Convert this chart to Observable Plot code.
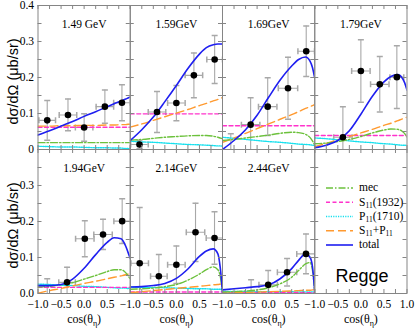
<!DOCTYPE html>
<html><head><meta charset="utf-8">
<script src="https://cdn.jsdelivr.net/npm/d3@7"></script>
<script src="https://cdn.jsdelivr.net/npm/@observablehq/plot@0.6"></script>
<style>
body{margin:0;background:#fff}
#wrap{position:relative;width:415px;height:328px;background:#fff}
#wrap svg{display:block}
#overlay{position:absolute;left:0;top:0;pointer-events:none}
</style></head><body><div id="wrap"></div>
<script>
// ---------- data ----------
const energies = ["1.49 GeV", "1.59GeV", "1.69GeV", "1.79GeV", "1.94GeV", "2.14GeV", "2.44GeV"];
const panelCol = [0, 1, 2, 3, 0, 1, 2];
const panelRow = [0, 0, 0, 0, 1, 1, 1];
const cosGrid = [-1, -0.75, -0.5, -0.25, 0, 0.25, 0.5, 0.65, 0.8, 0.9, 0.95, 1];

const mecCurves = [
  [0.019,0.019,0.019,0.019,0.019,0.019,0.019,0.019,0.019,0.019,0.019,0.019],
  [0.026,0.028,0.031,0.034,0.036,0.038,0.039,0.039,0.037,0.034,0.032,0.030],
  [0.025,0.028,0.032,0.036,0.040,0.045,0.048,0.047,0.042,0.033,0.024,0.012],
  [0.016,0.018,0.022,0.028,0.036,0.046,0.054,0.057,0.056,0.050,0.044,0.034],
  [0.018,0.020,0.024,0.030,0.040,0.050,0.061,0.066,0.066,0.058,0.050,0.040],
  [0.012,0.013,0.015,0.019,0.025,0.037,0.054,0.066,0.074,0.066,0.048,0.004],
  [0.004,0.005,0.007,0.010,0.016,0.027,0.045,0.064,0.082,0.086,0.065,0.004]
];
const s11Curves = [
  [0.062,0.062,0.062,0.062,0.062,0.062,0.062,0.062,0.062,0.062,0.062,0.062],
  [0.099,0.099,0.099,0.099,0.099,0.099,0.099,0.099,0.099,0.099,0.099,0.099],
  [0.066,0.066,0.066,0.066,0.066,0.066,0.066,0.066,0.066,0.066,0.066,0.066],
  [0.039,0.039,0.039,0.039,0.039,0.039,0.039,0.039,0.039,0.039,0.039,0.039],
  [0.017,0.017,0.017,0.017,0.017,0.017,0.017,0.017,0.017,0.017,0.017,0.017],
  [0.004,0.004,0.004,0.004,0.004,0.004,0.004,0.004,0.004,0.004,0.004,0.004],
  [0.002,0.002,0.002,0.002,0.002,0.002,0.002,0.002,0.002,0.002,0.002,0.002]
];
const p11Curves = [
  [0.009,0.008,0.007,0.007,0.006,0.005,0.005,0.004,0.004,0.003,0.003,0.003],
  [0.023,0.021,0.020,0.018,0.016,0.014,0.013,0.012,0.011,0.010,0.010,0.009],
  [0.034,0.031,0.028,0.025,0.022,0.020,0.017,0.015,0.014,0.013,0.012,0.011],
  [0.032,0.030,0.027,0.024,0.021,0.019,0.016,0.015,0.013,0.012,0.012,0.011],
  [0.026,0.025,0.023,0.022,0.020,0.019,0.017,0.016,0.015,0.015,0.014,0.014],
  [0.018,0.017,0.017,0.016,0.015,0.014,0.013,0.013,0.012,0.012,0.012,0.011],
  [0.006,0.006,0.006,0.005,0.005,0.005,0.005,0.004,0.004,0.004,0.004,0.004]
];
const sumCurves = [
  [0.065,0.065,0.066,0.066,0.067,0.067,0.068,0.068,0.069,0.069,0.070,0.070],
  [0.062,0.071,0.081,0.091,0.101,0.111,0.122,0.128,0.135,0.139,0.142,0.144],
  [0.020,0.032,0.045,0.058,0.071,0.084,0.097,0.105,0.114,0.119,0.122,0.125],
  [0.008,0.017,0.027,0.036,0.046,0.056,0.067,0.073,0.080,0.085,0.087,0.090],
  [0.001,0.008,0.014,0.021,0.028,0.034,0.041,0.045,0.049,0.052,0.054,0.055],
  [0.002,0.005,0.008,0.011,0.014,0.017,0.020,0.022,0.024,0.025,0.026,0.027],
  [0.001,0.002,0.003,0.004,0.005,0.006,0.007,0.008,0.009,0.009,0.010,0.010]
];
const totalCurves = [
  [0.040,0.052,0.065,0.078,0.092,0.105,0.119,0.127,0.135,0.140,0.143,0.146],
  [0.025,0.055,0.090,0.133,0.178,0.225,0.265,0.283,0.291,0.293,0.293,0.293],
  [0.000,0.025,0.055,0.095,0.145,0.193,0.232,0.250,0.257,0.245,0.228,0.198],
  [0.005,0.012,0.025,0.052,0.098,0.148,0.188,0.203,0.208,0.198,0.185,0.165],
  [0.022,0.022,0.025,0.040,0.070,0.108,0.142,0.155,0.152,0.132,0.115,0.097],
  [0.018,0.019,0.022,0.028,0.042,0.068,0.103,0.118,0.124,0.110,0.073,0.004],
  [0.010,0.013,0.016,0.019,0.024,0.041,0.069,0.092,0.110,0.100,0.075,0.004]
];

// measured points (cos, value, vertical error, horizontal half-width)
const dataCos = [
  [-0.80,-0.35,0.00,0.45,0.82],
  [-0.80,-0.42,0.00,0.38,0.83],
  [-0.82,-0.39,-0.02,0.42,0.815],
  [-0.39,0.00,0.41,0.78],
  [-0.80,-0.37,0.015,0.41,0.825],
  [-0.795,-0.38,0.00,0.415,0.827],
  [-0.38,-0.01,0.40,0.81]
];
const dataVal = [
  [0.081,0.096,0.061,0.119,0.130],
  [0.014,0.104,0.129,0.206,0.250],
  [-0.008,0.069,0.119,0.170,0.273],
  [0.034,0.218,0.181,0.201],
  [-0.008,0.031,0.152,0.164,0.201],
  [0.084,0.048,0.080,0.170,0.154],
  [-0.008,0.024,0.059,0.110]
];
const dataErr = [
  [0.055,0.044,0.038,0.046,0.050],
  [0.012,0.057,0.049,0.062,0.067],
  [0.052,0.075,0.080,0.086,0.070],
  [0.085,0.087,0.077,0.087],
  [0.049,0.042,0.050,0.042,0.062],
  [0.155,0.060,0.052,0.081,0.073],
  [0.046,0.040,0.038,0.055]
];
const dataXErr = [
  [0.18,0.19,0.19,0.19,0.18],
  [0.19,0.19,0.19,0.19,0.17],
  [0.18,0.20,0.20,0.21,0.18],
  [0.20,0.20,0.20,0.15],
  [0.18,0.18,0.20,0.20,0.18],
  [0.19,0.18,0.19,0.20,0.18],
  [0.19,0.20,0.21,0.20]
];

const seriesLabels = ["mec", "S_11(1932)", "P_11(1710)", "S_11+P_11", "total"];
const seriesColors = ["#6cc13c", "#ff33cc", "#16e0ee", "#ff9a30", "#1f1ff0"];
const seriesDash = ["7,2,1.5,2", "4,2.5", "1.2,1.2", "8,4", null];
const seriesCurves = [mecCurves, s11Curves, p11Curves, sumCurves, totalCurves];

const xTickValues = [-1, -0.75, -0.5, -0.25, 0, 0.25, 0.5, 0.75, 1];
const yTickValues = [0, 0.05, 0.1, 0.15, 0.2, 0.25, 0.3, 0.35, 0.4];
const xTickLabels = [-1, -0.5, 0, 0.5];
const xTickLabelsLast = [-1, -0.5, 0, 0.5, 1];
const yTickTop = [0, 0.1, 0.2, 0.3, 0.4];
const yTickTopText = ["0", "0.1", "0.2", "0.3", "0.4"];
const yTickBottom = [0, 0.1, 0.2, 0.3];
const yTickBottomText = ["0.0", "0.1", "0.2", "0.3"];

// ---------- layout ----------
const W = 415, H = 328, ML = 37.5, MR = 8.5, MT = 5, MB = 35;
const PW = (W - ML - MR) / 4, PH = (H - MT - MB) / 2;
const frameColor = "#858585";
const errColor = "#a8a8a8";
const serif = "Liberation Serif, Times New Roman, serif";
const sans = "Liberation Sans, Arial, sans-serif";

// ---------- derived tables ----------
const curveRows = seriesCurves.map((curves, s) =>
  curves.flatMap((vals, p) => vals.map((v, k) => ({s, p, c: panelCol[p], r: panelRow[p], cos: cosGrid[k], v})))
);
const points = dataCos.flatMap((cs, p) => cs.map((x, k) => {
  const v = dataVal[p][k], e = dataErr[p][k], xe = dataXErr[p][k];
  return {p, c: panelCol[p], r: panelRow[p], cos: x, v, lo: v - e, hi: v + e, xlo: x - xe, xhi: x + xe};
}));
const allPanels = [];
for (let r = 0; r < 2; r++) for (let c = 0; c < 4; c++) allPanels.push({c, r});
const xTicks = allPanels.flatMap(({c, r}) => xTickValues.map(v => ({c, r, v})));
const yTicks = allPanels.flatMap(({c, r}) => yTickValues.map(v => ({c, r, v})));
const fmt = d3.format(".1f");
const xLabels = [0, 1, 2, 3].flatMap(c => (c === 3 ? xTickLabelsLast : xTickLabels).map(v => ({c, r: 1, v, t: fmt(v)})));
const yLabels = [
  ...yTickTop.map((v, i) => ({c: 0, r: 0, v, t: yTickTopText[i]})),
  ...yTickBottom.map((v, i) => ({c: 0, r: 1, v, t: yTickBottomText[i]}))
];
const titles = energies.map((t, p) => ({c: panelCol[p], r: panelRow[p], t}));

const capH = {draw(ctx, size) { const r = Math.sqrt(size / Math.PI); ctx.moveTo(-r, 0); ctx.lineTo(r, 0); }};
const capV = {draw(ctx, size) { const r = Math.sqrt(size / Math.PI); ctx.moveTo(0, -r); ctx.lineTo(0, r); }};

const drawOrder = [2, 1, 3, 0, 4];
const curveMarks = drawOrder.map(s => Plot.line(curveRows[s], {
  x: "cos", y: "v", z: "p", fx: "c", fy: "r",
  stroke: seriesColors[s], strokeWidth: s === 4 ? 1.6 : 1.4,
  strokeDasharray: seriesDash[s] || undefined,
  curve: "monotone-x", clip: true
}));

const plot = Plot.plot({
  width: W, height: H,
  marginLeft: ML, marginRight: MR, marginTop: MT, marginBottom: MB,
  style: {fontFamily: serif, fontSize: "11.5px", background: "white", color: "black"},
  fx: {domain: [0, 1, 2, 3], padding: 0, axis: null, round: false},
  fy: {domain: [0, 1], padding: 0, axis: null, round: false},
  x: {domain: [-1, 1], axis: null},
  y: {domain: [0, 0.4], axis: null},
  marks: [
    // error bars
    Plot.ruleX(points, {x: "cos", y1: "lo", y2: "hi", fx: "c", fy: "r", stroke: errColor, strokeWidth: 1.1, clip: true}),
    Plot.ruleY(points, {y: "v", x1: "xlo", x2: "xhi", fx: "c", fy: "r", stroke: errColor, strokeWidth: 1.1, clip: true}),
    Plot.dot(points, {x: "cos", y: "lo", fx: "c", fy: "r", symbol: capH, r: 3, stroke: errColor, fill: "none", clip: true}),
    Plot.dot(points, {x: "cos", y: "hi", fx: "c", fy: "r", symbol: capH, r: 3, stroke: errColor, fill: "none", clip: true}),
    Plot.dot(points, {x: "xlo", y: "v", fx: "c", fy: "r", symbol: capV, r: 3, stroke: errColor, fill: "none", clip: true}),
    Plot.dot(points, {x: "xhi", y: "v", fx: "c", fy: "r", symbol: capV, r: 3, stroke: errColor, fill: "none", clip: true}),
    ...curveMarks,
    Plot.dot(points, {x: "cos", y: "v", fx: "c", fy: "r", r: 3.3, fill: "black", stroke: "none", clip: true}),
    // frame & inner ticks
    Plot.tickX(xTicks, {x: "v", fx: "c", fy: "r", insetTop: PH - 4, stroke: frameColor}),
    Plot.tickX(xTicks, {x: "v", fx: "c", fy: "r", insetBottom: PH - 4, stroke: frameColor}),
    Plot.tickY(yTicks, {y: "v", fx: "c", fy: "r", insetRight: PW - 4, stroke: frameColor}),
    Plot.tickY(yTicks, {y: "v", fx: "c", fy: "r", insetLeft: PW - 4, stroke: frameColor}),
    Plot.frame({stroke: frameColor, strokeWidth: 1}),
    // tick labels
    Plot.text(xLabels, {x: "v", fx: "c", fy: "r", text: "t", frameAnchor: "bottom", textAnchor: "middle", lineAnchor: "middle", dy: 10.5, fill: "black"}),
    Plot.text(yLabels, {y: "v", fx: "c", fy: "r", text: "t", frameAnchor: "left", dx: -4, textAnchor: "end", lineAnchor: "middle", fill: "black"}),
    // axis titles
    Plot.text([0, 1], {fx: 0, fy: d => d, text: () => "dσ/dΩ (μb/sr)", frameAnchor: "left", textAnchor: "middle", lineAnchor: "middle", dx: -25, dy: 4, rotate: -90, fontFamily: sans, fontSize: 14.5, fill: "black"}),
    Plot.text([0, 1, 2, 3], {fx: d => d, fy: 1, text: () => "cos(θη)", frameAnchor: "bottom", textAnchor: "middle", lineAnchor: "middle", dy: 26, fontSize: 12, fill: "black"}),
    // panel titles
    Plot.text(titles, {fx: "c", fy: "r", text: "t", frameAnchor: "top", textAnchor: "middle", lineAnchor: "middle", dy: 19, fontSize: 11.5, fill: "black"})
  ]
});

const wrap = document.getElementById("wrap");
wrap.appendChild(plot);

// subscript eta in x labels
const NS = "http://www.w3.org/2000/svg";
plot.querySelectorAll("text").forEach(t => {
  if (t.textContent === "cos(θη)") {
    t.textContent = "";
    const a = document.createElementNS(NS, "tspan"); a.textContent = "cos(θ";
    const b = document.createElementNS(NS, "tspan"); b.textContent = "η"; b.setAttribute("font-size", "8"); b.setAttribute("dy", "3");
    const c = document.createElementNS(NS, "tspan"); c.textContent = ")"; c.setAttribute("dy", "-3");
    t.append(a, b, c);
  }
});

// legend + "Regge" overlay in the empty panel
const ov = d3.select(wrap).append("svg").attr("id", "overlay").attr("width", W).attr("height", H);
const legY = [188, 202.3, 216.5, 230.8, 245];
seriesLabels.forEach((lab, i) => {
  ov.append("line").attr("x1", 326).attr("x2", 353).attr("y1", legY[i]).attr("y2", legY[i])
    .attr("stroke", seriesColors[i]).attr("stroke-width", i === 4 ? 1.6 : 1.4)
    .attr("stroke-dasharray", seriesDash[i]);
  const t = ov.append("text").attr("x", 359).attr("y", legY[i]).attr("dy", "0.3em")
    .attr("font-family", serif).attr("font-size", 11.5);
  const parts = lab.split(/(_11)/).filter(s => s.length);
  let shifted = false;
  parts.forEach(part => {
    if (part === "_11") {
      t.append("tspan").text("11").attr("font-size", 7.5).attr("dy", 2.2);
      shifted = true;
    } else {
      const sp = t.append("tspan").text(part);
      if (shifted) { sp.attr("dy", -2.2); shifted = false; }
    }
  });
});
ov.append("text").attr("x", 362).attr("y", 282).attr("text-anchor", "middle")
  .attr("font-family", sans).attr("font-size", 18).text("Regge");
</script>
</body></html>
